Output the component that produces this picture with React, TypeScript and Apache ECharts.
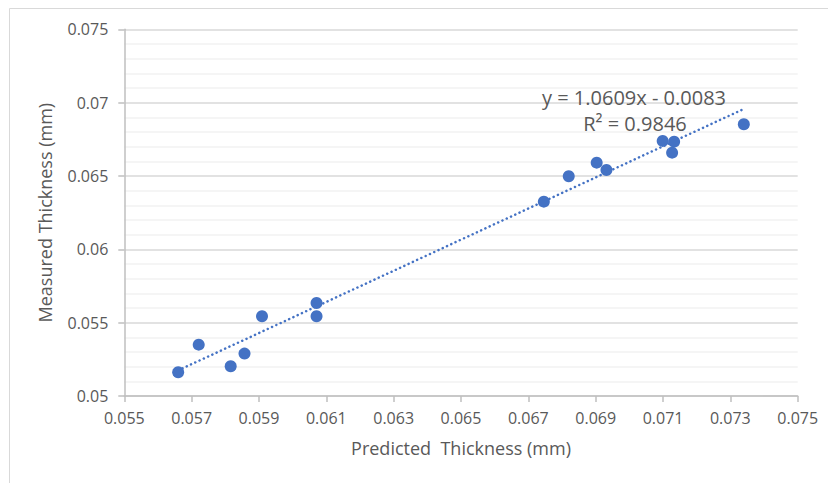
import React, { useEffect, useRef } from "react";
import * as echarts from "echarts";

const predicted = [0.0566, 0.05721, 0.05816, 0.05857, 0.05909, 0.06071, 0.06071, 0.06746, 0.0682, 0.06903, 0.06932, 0.07099, 0.07133, 0.07127, 0.0734];
const measured = [0.05162, 0.0535, 0.05203, 0.05289, 0.05544, 0.05634, 0.05544, 0.06325, 0.06498, 0.06591, 0.06541, 0.06739, 0.06734, 0.06659, 0.06853];
const slope = 1.0609;
const intercept = -0.0083;
const equationText = "y = 1.0609x - 0.0083";
const r2Text = "R² = 0.9846";
const xTitle = "Predicted  Thickness (mm)";
const yTitle = "Measured Thickness (mm)";

export default function App() {
  const ref = useRef<HTMLDivElement>(null);
  useEffect(() => {
    if (!ref.current) return;
    const chart = echarts.init(ref.current, null, { renderer: "svg" });
    const xmin = Math.min(...predicted);
    const xmax = Math.max(...predicted);
    const trend = [
      [xmin, slope * xmin + intercept],
      [xmax, slope * xmax + intercept],
    ];
    const font = "'Open Sans', sans-serif";
    chart.setOption({
      animation: false,
      backgroundColor: "#ffffff",
      grid: { left: 124.3, right: 30.3, top: 29.3, bottom: 87, containLabel: false },
      graphic: [
        {
          type: "rect",
          shape: { x: 9.5, y: 8.5, width: 900, height: 600 },
          style: { fill: "none", stroke: "#D9D9D9", lineWidth: 1 },
          silent: true,
          z: -10,
        },
        {
          type: "text",
          x: 634,
          y: 97,
          style: { text: equationText, font: `20px ${font}`, fill: "#595959", align: "center", verticalAlign: "middle" },
          z: 100,
        },
        {
          type: "text",
          x: 635,
          y: 123,
          style: { text: r2Text, font: `20px ${font}`, fill: "#595959", align: "center", verticalAlign: "middle" },
          z: 100,
        },
      ],
      xAxis: {
        type: "value",
        min: 0.055,
        max: 0.075,
        interval: 0.002,
        name: xTitle,
        nameLocation: "middle",
        nameGap: 43,
        nameTextStyle: { fontFamily: font, fontSize: 18, color: "#595959" },
        axisLine: { show: true, onZero: false, lineStyle: { color: "#BFBFBF", width: 1.5 } },
        axisTick: { show: true, length: 6, lineStyle: { color: "#BFBFBF", width: 1.5 } },
        axisLabel: { fontFamily: font, fontSize: 16, color: "#595959", margin: 14, formatter: (v: number) => String(+v.toFixed(3)) },
        splitLine: { show: false },
      },
      yAxis: {
        type: "value",
        min: 0.05,
        max: 0.075,
        interval: 0.005,
        name: yTitle,
        nameLocation: "middle",
        nameGap: 70,
        nameTextStyle: { fontFamily: font, fontSize: 18, color: "#595959" },
        axisLine: { show: true, onZero: false, lineStyle: { color: "#BFBFBF", width: 1.5 } },
        axisTick: { show: true, length: 6, lineStyle: { color: "#BFBFBF", width: 1.5 } },
        axisLabel: { fontFamily: font, fontSize: 16, color: "#595959", margin: 16, formatter: (v: number) => String(+v.toFixed(3)) },
        splitLine: { show: true, lineStyle: { color: "#D9D9D9", width: 1.5 } },
        minorTick: { show: false, splitNumber: 5 },
        minorSplitLine: { show: true, lineStyle: { color: "#F2F2F2", width: 1.5 } },
      },
      series: [
        {
          type: "line",
          data: trend,
          symbol: "none",
          lineStyle: { color: "#4472C4", width: 2.5, type: [0.1, 4.6], cap: "round" },
          z: 2,
          silent: true,
        },
        {
          type: "scatter",
          data: predicted.map((x, i) => [x, measured[i]]),
          symbol: "circle",
          symbolSize: 12,
          itemStyle: { color: "#4472C4", opacity: 1 },
          z: 3,
        },
      ],
    });
    return () => chart.dispose();
  }, []);
  return <div ref={ref} style={{ width: 828, height: 483, position: "absolute", left: 0, top: 0 }} />;
}
